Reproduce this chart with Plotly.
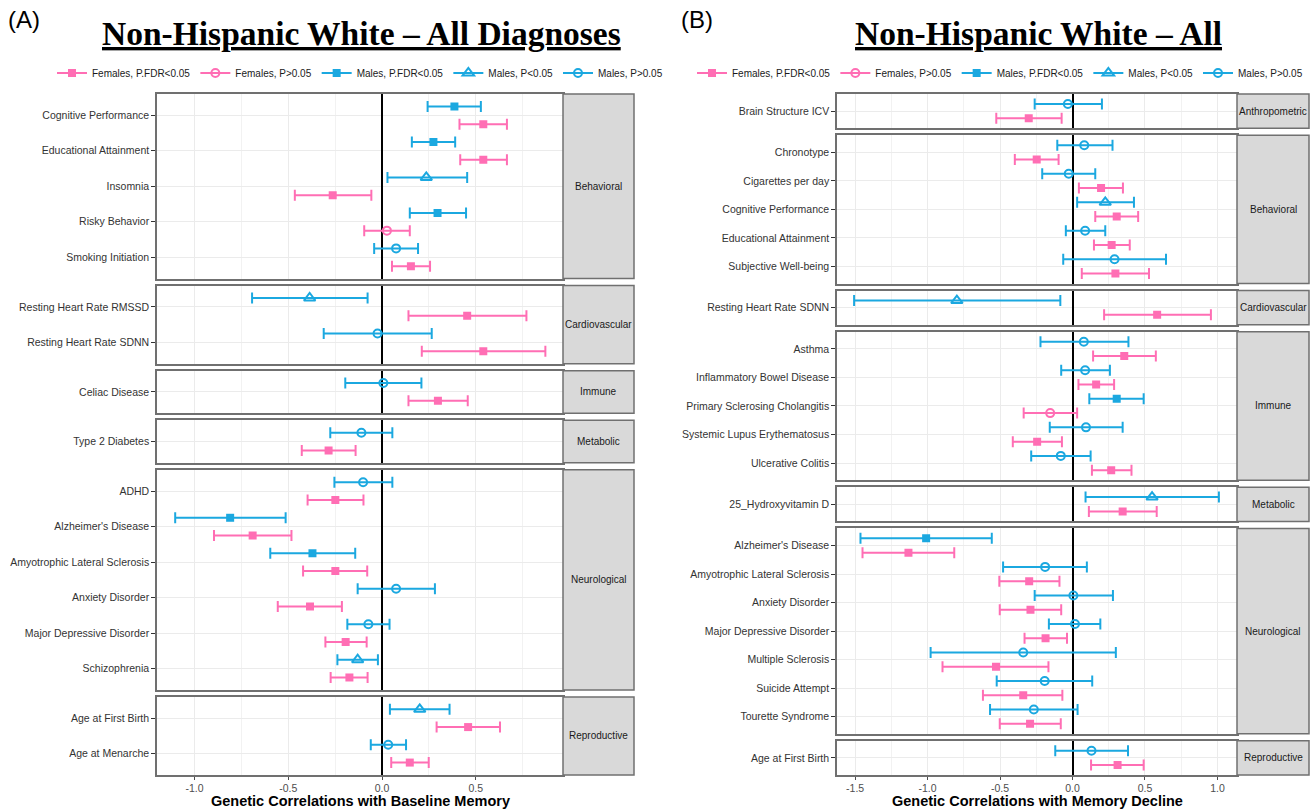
import plotly.graph_objects as go

W, H = 1311, 809

PINK = "#FF6EB4"
BLUE = "#1BA8E0"
BORDER = "#707070"
GRID = "#EBEBEB"
SANS = "Liberation Sans, Arial, sans-serif"
SERIF = "Liberation Serif, Times New Roman, serif"

# ---------------- Panel A: baseline memory ----------------
a_traits = ["Cognitive Performance", "Educational Attainment", "Insomnia", "Risky Behavior",
            "Smoking Initiation", "Resting Heart Rate RMSSD", "Resting Heart Rate SDNN",
            "Celiac Disease", "Type 2 Diabetes", "ADHD", "Alzheimer's Disease",
            "Amyotrophic Lateral Sclerosis", "Anxiety Disorder", "Major Depressive Disorder",
            "Schizophrenia", "Age at First Birth", "Age at Menarche"]
a_domain = (["Behavioral"] * 5 + ["Cardiovascular"] * 2 + ["Immune"] + ["Metabolic"]
            + ["Neurological"] * 6 + ["Reproductive"] * 2)
a_male_rg = [0.386, 0.274, 0.236, 0.296, 0.075, -0.386, -0.024, 0.007, -0.110,
             -0.101, -0.810, -0.371, 0.075, -0.073, -0.130, 0.201, 0.033]
a_male_lo = [0.243, 0.159, 0.029, 0.148, -0.042, -0.693, -0.311, -0.196, -0.276,
             -0.254, -1.103, -0.596, -0.130, -0.185, -0.238, 0.042, -0.060]
a_male_hi = [0.527, 0.390, 0.454, 0.448, 0.192, -0.077, 0.265, 0.210, 0.055,
             0.055, -0.514, -0.143, 0.282, 0.040, -0.022, 0.360, 0.128]
a_male_sig = ["fdr", "fdr", "p05", "fdr", "ns", "p05", "ns", "ns", "ns",
              "ns", "fdr", "fdr", "ns", "ns", "p05", "p05", "ns"]
a_female_rg = [0.540, 0.540, -0.263, 0.026, 0.154, 0.454, 0.540, 0.298, -0.285,
               -0.249, -0.690, -0.249, -0.384, -0.194, -0.174, 0.459, 0.148]
a_female_lo = [0.413, 0.417, -0.465, -0.095, 0.053, 0.141, 0.212, 0.141, -0.428,
               -0.397, -0.896, -0.421, -0.556, -0.302, -0.274, 0.291, 0.049]
a_female_hi = [0.666, 0.666, -0.057, 0.148, 0.256, 0.770, 0.871, 0.457, -0.141,
               -0.099, -0.483, -0.079, -0.214, -0.082, -0.077, 0.629, 0.249]
a_female_sig = ["fdr", "fdr", "fdr", "ns", "fdr", "fdr", "fdr", "fdr", "fdr",
                "fdr", "fdr", "fdr", "fdr", "fdr", "fdr", "fdr", "fdr"]
a_xrange = [-1.2, 0.965]
a_ticks = [-1.0, -0.5, 0.0, 0.5]
a_minor = [-0.75, -0.25, 0.25, 0.75]

# ---------------- Panel B: memory decline ----------------
b_traits = ["Brain Structure ICV", "Chronotype", "Cigarettes per day", "Cognitive Performance",
            "Educational Attainment", "Subjective Well-being", "Resting Heart Rate SDNN",
            "Asthma", "Inflammatory Bowel Disease", "Primary Sclerosing Cholangitis",
            "Systemic Lupus Erythematosus", "Ulcerative Colitis", "25_Hydroxyvitamin D",
            "Alzheimer's Disease", "Amyotrophic Lateral Sclerosis", "Anxiety Disorder",
            "Major Depressive Disorder", "Multiple Sclerosis", "Suicide Attempt",
            "Tourette Syndrome", "Age at First Birth"]
b_domain = (["Anthropometric"] + ["Behavioral"] * 5 + ["Cardiovascular"] + ["Immune"] * 5
            + ["Metabolic"] + ["Neurological"] * 7 + ["Reproductive"])
b_male_rg = [-0.032, 0.081, -0.026, 0.226, 0.087, 0.290, -0.798, 0.078, 0.087, 0.305,
             0.093, -0.081, 0.549, -1.010, -0.189, 0.006, 0.017, -0.340, -0.192, -0.267, 0.131]
b_male_lo = [-0.261, -0.105, -0.209, 0.032, -0.046, -0.064, -1.507, -0.221, -0.078, 0.116,
             -0.157, -0.285, 0.090, -1.463, -0.479, -0.261, -0.163, -0.979, -0.523, -0.569, -0.119]
b_male_hi = [0.203, 0.276, 0.157, 0.424, 0.226, 0.645, -0.084, 0.386, 0.258, 0.491,
             0.346, 0.125, 1.010, -0.557, 0.099, 0.279, 0.192, 0.299, 0.136, 0.035, 0.383]
b_male_sig = ["ns", "ns", "ns", "p05", "ns", "ns", "p05", "ns", "ns", "fdr",
              "ns", "ns", "p05", "fdr", "ns", "ns", "ns", "ns", "ns", "ns", "ns"]
b_female_rg = [-0.302, -0.247, 0.197, 0.305, 0.270, 0.296, 0.584, 0.357, 0.163, -0.154,
               -0.244, 0.267, 0.346, -1.132, -0.299, -0.290, -0.186, -0.528, -0.340, -0.293, 0.311]
b_female_lo = [-0.526, -0.398, 0.044, 0.157, 0.148, 0.064, 0.218, 0.142, 0.041, -0.337,
               -0.412, 0.134, 0.113, -1.449, -0.505, -0.502, -0.331, -0.897, -0.618, -0.502, 0.128]
b_female_hi = [-0.075, -0.096, 0.348, 0.453, 0.395, 0.528, 0.955, 0.575, 0.287, 0.032,
               -0.073, 0.407, 0.581, -0.816, -0.090, -0.078, -0.038, -0.166, -0.070, -0.081, 0.491]
b_female_sig = ["fdr", "fdr", "fdr", "fdr", "fdr", "fdr", "fdr", "fdr", "fdr", "ns",
                "fdr", "fdr", "fdr", "fdr", "fdr", "fdr", "fdr", "fdr", "fdr", "fdr", "fdr"]
b_xrange = [-1.625, 1.135]
b_ticks = [-1.5, -1.0, -0.5, 0.0, 0.5, 1.0]
b_minor = [-1.25, -0.75, -0.25, 0.25, 0.75]

# legend entries (sex, significance) -> label
legend_labels = [("F", "fdr", "Females, P.FDR<0.05"), ("F", "ns", "Females, P>0.05"),
                 ("M", "fdr", "Males, P.FDR<0.05"), ("M", "p05", "Males, P<0.05"),
                 ("M", "ns", "Males, P>0.05")]


def marker_style(sex, sig):
    col = PINK if sex == "F" else BLUE
    if sig == "fdr":
        return col, dict(symbol="square", size=8, color=col, line=dict(width=0))
    if sig == "p05":
        return col, dict(symbol="triangle-up-open", size=10, color=col, line=dict(width=2, color=col))
    return col, dict(symbol="circle-open", size=8, color=col, line=dict(width=2, color=col))


panels = [
    dict(traits=a_traits, domain=a_domain,
         M=(a_male_rg, a_male_lo, a_male_hi, a_male_sig),
         F=(a_female_rg, a_female_lo, a_female_hi, a_female_sig),
         xr=a_xrange, ticks=a_ticks, minor=a_minor,
         px_x=(157, 563, 634), letter="(A)", letter_x=24,
         title="Non-Hispanic White \u2013 All Diagnoses",
         xtitle="Genetic Correlations with Baseline Memory", legend="legend"),
    dict(traits=b_traits, domain=b_domain,
         M=(b_male_rg, b_male_lo, b_male_hi, b_male_sig),
         F=(b_female_rg, b_female_lo, b_female_hi, b_female_sig),
         xr=b_xrange, ticks=b_ticks, minor=b_minor,
         px_x=(837, 1237, 1309), letter="(B)", letter_x=697,
         title="Non-Hispanic White \u2013 All",
         xtitle="Genetic Correlations with Memory Decline", legend="legend2"),
]

TOP, BOTTOM, GAP = 94, 775, 7

fig = go.Figure()
layout_axes = {}
shapes = []
annotations = []
ax_i = 0

for p in panels:
    groups = []
    for d in p["domain"]:
        if d not in groups:
            groups.append(d)
    counts = [p["domain"].count(g) for g in groups]
    unit = (BOTTOM - TOP - GAP * (len(groups) - 1)) / sum(c + 0.2 for c in counts)
    x0, x1, xs = p["px_x"]
    y_cur = TOP
    for gi, g in enumerate(groups):
        idx = [k for k, d in enumerate(p["domain"]) if d == g]
        n = len(idx)
        h = unit * (n + 0.2)
        yt, yb = y_cur, y_cur + h
        y_cur = yb + GAP
        ax_i += 1
        xa = "xaxis" if ax_i == 1 else f"xaxis{ax_i}"
        ya = "yaxis" if ax_i == 1 else f"yaxis{ax_i}"
        xref = "x" if ax_i == 1 else f"x{ax_i}"
        yref = "y" if ax_i == 1 else f"y{ax_i}"
        bottom = gi == len(groups) - 1
        layout_axes[xa] = dict(
            domain=[x0 / W, x1 / W], anchor=yref, range=p["xr"], automargin=False,
            tickmode="array", tickvals=p["ticks"],
            ticktext=[f"{v:.1f}" for v in p["ticks"]],
            showticklabels=bottom, ticks="outside" if bottom else "", ticklen=3,
            tickcolor="#4D4D4D", tickfont=dict(family=SANS, size=10.5, color="#4D4D4D"),
            showgrid=True, gridcolor=GRID, gridwidth=1,
            minor=dict(tickmode="array", tickvals=p["minor"], showgrid=True,
                       gridcolor="#F2F2F2", gridwidth=1, ticks=""),
            zeroline=True, zerolinecolor="black", zerolinewidth=1.5,
            showline=True, mirror=True, linecolor=BORDER, linewidth=1.5,
        )
        layout_axes[ya] = dict(
            domain=[1 - yb / H, 1 - yt / H], anchor=xref, range=[n - 0.4, -0.6], automargin=False,
            tickmode="array", tickvals=list(range(n)),
            ticktext=[p["traits"][k] for k in idx],
            ticks="outside", ticklen=4, tickcolor="#333333",
            tickfont=dict(family=SANS, size=10.5, color="#333333"),
            showgrid=True, gridcolor=GRID, gridwidth=1, zeroline=False,
            showline=True, mirror=True, linecolor=BORDER, linewidth=1.5,
        )
        # facet strip on the right
        shapes.append(dict(type="rect", xref="paper", yref="paper",
                           x0=x1 / W, x1=xs / W, y0=1 - yb / H, y1=1 - yt / H,
                           fillcolor="#D9D9D9", line=dict(color=BORDER, width=1.5), layer="above"))
        annotations.append(dict(x=(x1 + xs) / 2 / W, y=1 - (yt + yb) / 2 / H, xref="paper", yref="paper",
                                text=g, showarrow=False, xanchor="center", yanchor="middle",
                                font=dict(family=SANS, size=10, color="#1A1A1A")))
        # one trace per sex and significance class within this facet
        for sex, offset in (("M", -0.25), ("F", 0.25)):
            rg, lo, hi, sig = p[sex]
            for s in ("fdr", "p05", "ns"):
                ks = [k for k in idx if sig[k] == s]
                if not ks:
                    continue
                col, mk = marker_style(sex, s)
                fig.add_trace(go.Scatter(
                    x=[rg[k] for k in ks], y=[idx.index(k) + offset for k in ks],
                    xaxis=xref, yaxis=yref, mode="markers", marker=mk, showlegend=False,
                    error_x=dict(type="data", symmetric=False,
                                 array=[hi[k] - rg[k] for k in ks],
                                 arrayminus=[rg[k] - lo[k] for k in ks],
                                 color=col, thickness=2, width=5.5),
                    hoverinfo="skip"))
    # legend entries
    for sex, s, label in legend_labels:
        col, mk = marker_style(sex, s)
        fig.add_trace(go.Scatter(x=[None], y=[None], mode="lines+markers", name=label,
                                 marker=mk, line=dict(color=col, width=2),
                                 legend=p["legend"], showlegend=True))
    cx = (x0 + x1) / 2
    annotations.append(dict(x=cx / W, y=1 - 801 / H, xref="paper", yref="paper",
                            text=f"<b>{p['xtitle']}</b>", showarrow=False,
                            xanchor="center", yanchor="middle",
                            font=dict(family=SANS, size=14.5, color="black")))
    annotations.append(dict(x=(cx + 1) / W, y=1 - 33 / H, xref="paper", yref="paper",
                            text=f"<b><u>{p['title']}</u></b>", showarrow=False,
                            xanchor="center", yanchor="middle",
                            font=dict(family=SERIF, size=33.5, color="black")))
    annotations.append(dict(x=p["letter_x"] / W, y=1 - 20 / H, xref="paper", yref="paper",
                            text=p["letter"], showarrow=False, xanchor="center", yanchor="middle",
                            font=dict(family=SANS, size=24, color="black")))

legend_common = dict(orientation="h", xanchor="center", yanchor="middle", y=1 - 73 / H,
                     font=dict(family=SANS, size=10, color="#1A1A1A"),
                     bgcolor="rgba(0,0,0,0)", itemwidth=30, tracegroupgap=0)

fig.update_layout(
    width=W, height=H, margin=dict(l=0, r=0, t=0, b=0),
    paper_bgcolor="white", plot_bgcolor="white",
    shapes=shapes, annotations=annotations,
    legend=dict(x=360 / W, **legend_common),
    legend2=dict(x=1000 / W, **legend_common),
    **layout_axes,
)

fig.write_html("out.html")
